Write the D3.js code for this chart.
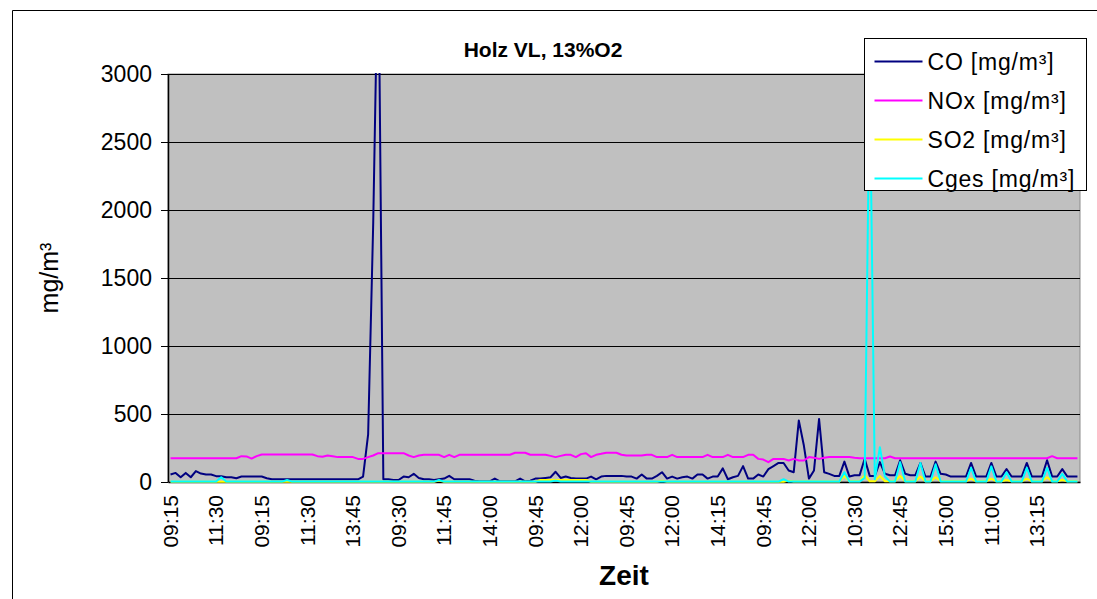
<!DOCTYPE html>
<html>
<head>
<meta charset="utf-8">
<script src="https://cdn.jsdelivr.net/npm/d3@7"></script>
<style>
body { margin: 0; background: #fff; }
text { font-family: Arial, "Liberation Sans", sans-serif; }
</style>
</head>
<body>
<div id="chart"></div>
<script>
const width = 1097;
const height = 599;
const margin = { top: 74, right: 17, bottom: 117, left: 168 };
const innerWidth = width - margin.left - margin.right;
const innerHeight = height - margin.top - margin.bottom;

// measurement times (15 min), one row per day
const times = [
  "09:15","09:30","09:45","10:00","10:15","10:30","10:45","11:00","11:15","11:30","11:45","12:00","12:15","12:30","12:45","13:00","13:15","13:30",
  "09:15","09:30","09:45","10:00","10:15","10:30","10:45","11:00","11:15","11:30","11:45","12:00","12:15","12:30","12:45","13:00","13:15","13:30","13:45","14:00","14:15","14:30","14:45","15:00","15:15","15:30","15:45",
  "09:30","09:45","10:00","10:15","10:30","10:45","11:00","11:15","11:30","11:45","12:00","12:15","12:30","12:45","13:00","13:15","13:30","13:45","14:00","14:15","14:30","14:45","15:00","15:15","15:30","15:45","16:00",
  "09:45","10:00","10:15","10:30","10:45","11:00","11:15","11:30","11:45","12:00","12:15","12:30","12:45","13:00","13:15","13:30","13:45","14:00",
  "09:45","10:00","10:15","10:30","10:45","11:00","11:15","11:30","11:45","12:00","12:15","12:30","12:45","13:00","13:15","13:30","13:45","14:00","14:15","14:30","14:45","15:00","15:15","15:30","15:45","16:00","16:15",
  "09:45","10:00","10:15","10:30","10:45","11:00","11:15","11:30","11:45","12:00","12:15","12:30","12:45","13:00",
  "09:30","09:45","10:00","10:15","10:30","10:45","11:00","11:15","11:30","11:45","12:00","12:15","12:30","12:45","13:00","13:15","13:30","13:45","14:00","14:15","14:30","14:45","15:00","15:15","15:30",
  "09:30","09:45","10:00","10:15","10:30","10:45","11:00","11:15","11:30","11:45","12:00","12:15","12:30","12:45","13:00","13:15","13:30","13:45","14:00","14:15","14:30","14:45","15:00","15:15"
];

const co = [
  55,67,35,67,35,80,62,55,55,43,
  43,35,35,28,40,40,40,40,40,28,
  20,20,20,20,20,20,20,20,20,20,
  20,20,20,20,20,20,20,20,40,350,
  1900,4000,20,20,15,15,40,35,60,30,
  20,20,15,20,25,45,20,20,20,20,
  10,5,5,5,25,5,5,5,5,25,
  5,10,25,25,30,35,75,30,40,30,
  25,25,25,40,20,40,45,45,45,45,
  40,40,25,55,25,25,45,72,25,40,
  25,35,40,25,55,55,25,40,40,100,
  20,35,45,117,25,25,55,40,95,117,
  140,140,85,72,452,268,25,85,464,72,
  60,45,45,150,40,50,50,170,45,45,
  146,60,50,50,160,60,50,50,140,40,
  40,150,60,55,40,40,40,40,140,40,
  40,40,140,40,40,95,40,40,40,140,
  40,40,40,160,40,40,95,40,40,40
];

const nox = [
  175,175,175,175,175,175,175,175,175,175,
  175,175,175,175,190,188,172,190,202,202,
  202,202,202,202,202,202,202,202,202,190,
  185,195,190,183,183,183,183,170,170,183,
  195,212,212,212,212,212,212,195,183,195,
  200,200,200,200,183,200,183,200,200,200,
  200,200,200,200,200,200,200,200,215,215,
  215,200,200,200,200,192,183,192,200,200,
  183,205,212,183,200,207,215,215,215,200,
  195,195,195,195,200,200,183,183,183,200,
  183,183,183,183,183,183,200,183,183,183,
  200,183,183,183,200,200,170,165,146,170,
  170,170,158,170,158,158,183,178,170,178,
  183,183,183,183,183,178,175,175,175,175,
  175,175,188,175,175,175,175,175,175,175,
  175,175,175,175,175,175,175,175,175,175,
  175,175,175,175,175,175,175,175,175,175,
  175,175,175,175,190,175,175,175,175,175
];

const so2 = [
  2,2,2,2,2,2,2,2,2,2,
  2,2,2,2,2,2,2,2,2,2,
  2,2,2,2,2,2,2,2,2,2,
  2,2,2,2,2,2,2,2,2,2,
  2,2,2,2,2,2,2,2,2,2,
  2,2,2,10,2,2,2,2,2,2,
  2,2,2,2,2,2,2,2,2,2,
  2,2,2,15,15,15,15,15,15,15,
  15,15,15,2,2,2,2,2,2,2,
  2,2,2,2,2,2,2,10,2,2,
  2,2,2,2,2,2,2,2,2,2,
  2,2,2,2,2,2,2,2,2,2,
  2,2,10,3,3,3,3,3,3,3,
  3,3,3,45,5,5,5,50,5,5,
  45,5,5,5,45,5,5,5,40,5,
  5,35,5,5,5,5,5,5,25,5,
  5,5,25,5,5,15,5,5,5,25,
  5,5,5,35,5,5,15,5,5,5
];

const cges = [
  3,3,3,3,3,3,3,3,3,3,
  35,3,3,3,3,3,3,3,3,3,
  3,3,3,15,3,3,3,3,3,3,
  3,3,3,3,3,3,3,3,3,3,
  3,3,3,3,3,3,3,3,3,3,
  3,3,3,15,3,3,3,3,3,3,
  3,3,3,3,3,3,3,3,3,3,
  3,3,3,3,3,3,10,3,3,3,
  3,3,3,3,3,3,3,3,3,3,
  3,3,3,3,3,3,3,3,3,3,
  3,3,3,3,3,3,3,3,3,3,
  3,3,3,3,3,3,3,3,3,3,
  3,20,3,3,3,3,3,3,3,3,
  3,3,3,72,3,3,3,30,3000,20,
  256,40,3,3,146,3,3,3,140,3,
  3,130,3,3,3,3,3,3,105,3,
  3,3,115,3,3,72,3,3,3,105,
  3,3,3,105,3,3,60,3,3,3
];

const yTicks = [0, 500, 1000, 1500, 2000, 2500, 3000];

const series = [
  { name: "CO [mg/m³]", values: co, color: "#000080" },
  { name: "NOx [mg/m³]", values: nox, color: "#ff00ff" },
  { name: "SO2 [mg/m³]", values: so2, color: "#ffff00" },
  { name: "Cges [mg/m³]", values: cges, color: "#00ffff" }
];

const svg = d3.select("#chart")
  .append("svg")
  .attr("width", width)
  .attr("height", height)
  .style("display", "block");

svg.append("rect")
  .attr("width", width)
  .attr("height", height)
  .attr("fill", "#fff");

// chart area frame (right and bottom edges lie outside the picture)
svg.append("path")
  .attr("d", `M12.5,${height}V10.5H${width}`)
  .attr("fill", "none")
  .attr("stroke", "#000");

const g = svg.append("g")
  .attr("transform", `translate(${margin.left},${margin.top})`);

const xScale = d3.scaleBand()
  .domain(d3.range(times.length))
  .range([0, innerWidth]);
const xc = i => xScale(i) + xScale.bandwidth() / 2;

const yScale = d3.scaleLinear()
  .domain([0, 3000])
  .range([innerHeight, 0]);

g.append("rect")
  .attr("width", innerWidth)
  .attr("height", innerHeight)
  .attr("fill", "#c0c0c0")
  .attr("stroke", "#8c8c8c");

// gridlines
g.append("g")
  .attr("class", "grid")
  .call(d3.axisLeft(yScale).tickValues(yTicks.slice(1)).tickSize(-innerWidth).tickFormat(""))
  .call(s => s.select(".domain").remove())
  .selectAll("line")
  .attr("stroke", "#000")
  .attr("shape-rendering", "crispEdges");

g.append("clipPath")
  .attr("id", "plotclip")
  .append("rect")
  .attr("width", innerWidth)
  .attr("height", innerHeight + 2)
  .attr("y", -1);

const line = d3.line()
  .x((d, i) => xc(i))
  .y(d => yScale(d));

const xAxis = d3.axisBottom(xScale)
  .tickValues(d3.range(0, times.length, 9))
  .tickFormat(i => times[i])
  .tickSize(0)
  .tickSizeOuter(0);

const xAxisG = g.append("g")
  .attr("class", "xaxis")
  .attr("transform", `translate(0,${innerHeight})`)
  .call(xAxis)
  .attr("fill", "#000")
  .attr("font-size", 21)
  .attr("font-family", "Arial, 'Liberation Sans', sans-serif");

xAxisG.select(".domain").attr("stroke", "#000").attr("stroke-width", 1.5);
xAxisG.selectAll(".tick line").remove();
xAxisG.selectAll("text")
  .attr("transform", "translate(0,13) rotate(-90)")
  .attr("text-anchor", "end")
  .attr("x", 0)
  .attr("y", 0)
  .attr("dy", "0.35em")
  .attr("fill", "#000");

const yAxisG = g.append("g")
  .attr("class", "yaxis")
  .call(d3.axisLeft(yScale).tickValues(yTicks).tickFormat(d3.format("d")).tickSize(7).tickSizeOuter(0))
  .attr("fill", "#000")
  .attr("font-size", 23)
  .attr("font-family", "Arial, 'Liberation Sans', sans-serif");

yAxisG.select(".domain").attr("stroke", "#000").attr("stroke-width", 1.5);
yAxisG.selectAll(".tick line").attr("stroke", "#000");
yAxisG.selectAll("text")
  .attr("transform", "translate(-16,0)")
  .attr("x", 0)
  .attr("text-anchor", "end")
  .attr("fill", "#000");

g.append("g")
  .attr("clip-path", "url(#plotclip)")
  .selectAll("path")
  .data(series)
  .enter()
  .append("path")
  .attr("d", d => line(d.values))
  .attr("fill", "none")
  .attr("stroke", d => d.color)
  .attr("stroke-width", 2)
  .attr("stroke-linejoin", "round");

// title and axis titles
svg.append("text")
  .attr("x", 543)
  .attr("y", 57)
  .attr("text-anchor", "middle")
  .style("font-size", "21px")
  .style("font-weight", "bold")
  .text("Holz VL, 13%O2");

svg.append("text")
  .attr("transform", "translate(58,278) rotate(-90)")
  .attr("text-anchor", "middle")
  .style("font-size", "25px")
  .text("mg/m³");

svg.append("text")
  .attr("x", margin.left + innerWidth / 2)
  .attr("y", 585)
  .attr("text-anchor", "middle")
  .style("font-size", "28px")
  .style("font-weight", "bold")
  .text("Zeit");

// legend
const legend = svg.append("g")
  .attr("transform", "translate(864.5,38.5)");

legend.append("rect")
  .attr("width", 222)
  .attr("height", 152)
  .attr("fill", "#fff")
  .attr("stroke", "#000");

const item = legend.selectAll(".item")
  .data(series)
  .enter()
  .append("g")
  .attr("class", "item")
  .attr("transform", (d, i) => `translate(0,${23 + i * 39})`);

item.append("line")
  .attr("x1", 10)
  .attr("x2", 58)
  .attr("stroke", d => d.color)
  .attr("stroke-width", 2);

item.append("text")
  .attr("x", 63)
  .attr("dy", "0.35em")
  .style("font-size", "23px")
  .style("letter-spacing", "0.8px")
  .text(d => d.name);
</script>
</body>
</html>
